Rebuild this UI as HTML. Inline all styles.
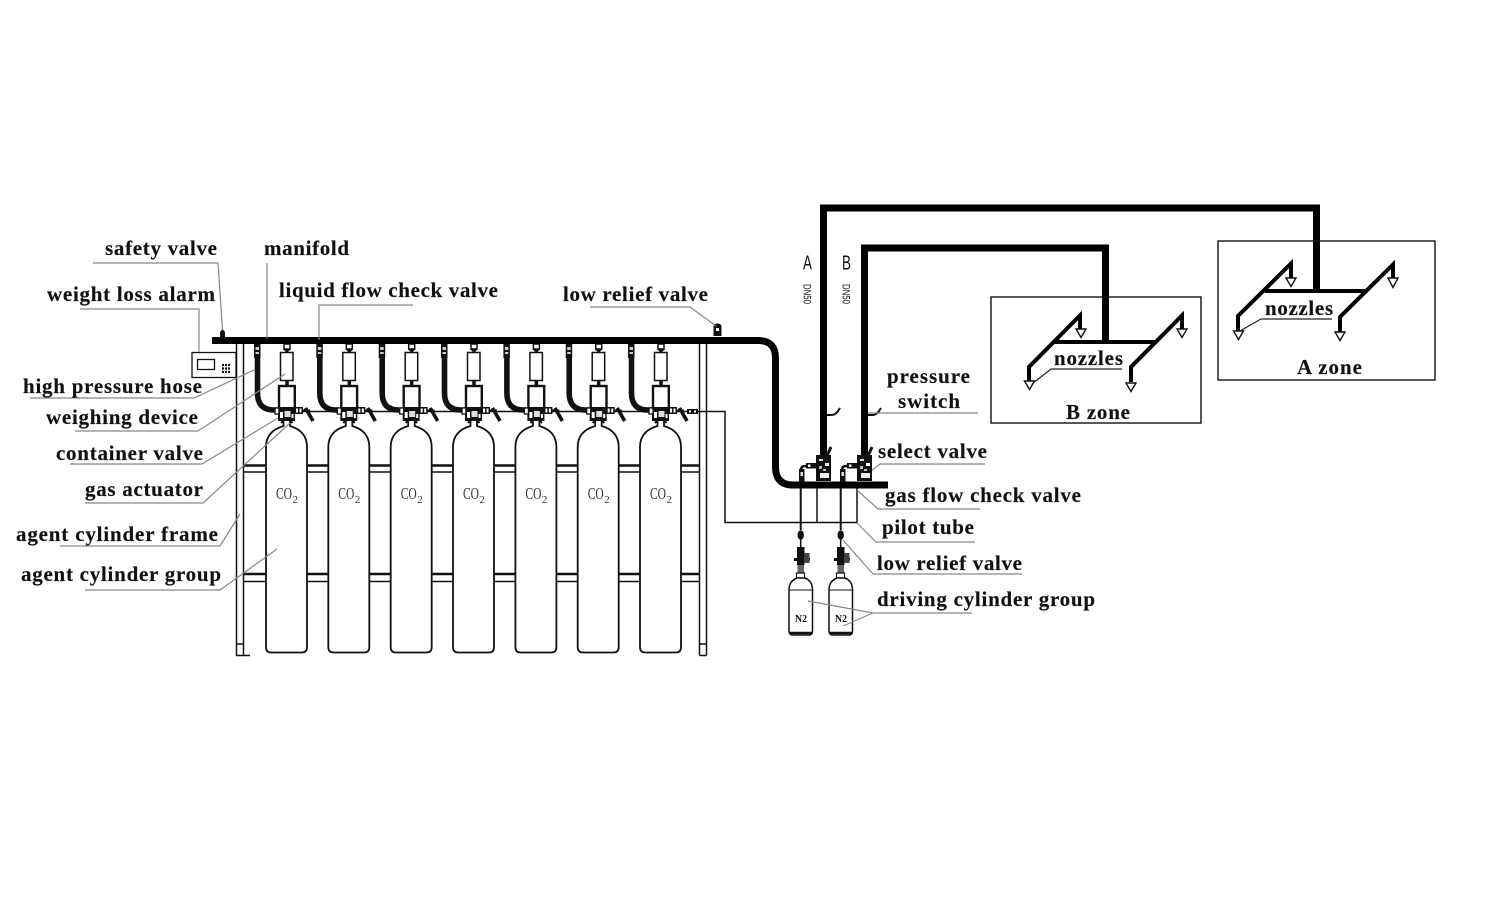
<!DOCTYPE html>
<html>
<head>
<meta charset="utf-8">
<style>
html,body{margin:0;padding:0;background:#fff;width:1500px;height:919px;overflow:hidden}
svg{display:block}
.l{font-family:"Liberation Serif",serif;font-weight:bold;font-size:21px;fill:#111;stroke:#111;stroke-width:.15}
.c{font-family:"Liberation Serif",serif;font-size:17px;fill:#333}
.s{font-family:"Liberation Sans",sans-serif;fill:#111}
.g{fill:none;stroke:#888;stroke-width:1.2}
</style>
</head>
<body>
<svg width="1500" height="919" viewBox="0 0 1500 919" xmlns="http://www.w3.org/2000/svg">
<defs>
<g id="unit" fill="none" stroke="#111">
  <path d="M283.5 421V426Q266 431 266 447V647Q266 652.5 271 652.5H302Q307 652.5 307 647V447Q307 431 290 426V421" stroke-width="1.8" fill="#fff"/>
  <path d="M257.500 358V393Q257.500 410 274 410H280" stroke-width="5.600"/>
  <rect x="254" y="344" width="6.500" height="14" fill="#111" stroke="none"/>
  <rect x="255.500" y="347" width="3.500" height="3" fill="#ccc" stroke="none"/>
  <rect x="255.500" y="352" width="3.500" height="2" fill="#ccc" stroke="none"/>
  <rect x="284" y="344" width="6" height="5" stroke-width="1.500" fill="#fff"/>
  <path d="M283 349H291L287 353Z" fill="#111" stroke="none"/>
  <rect x="280.500" y="352.500" width="12.500" height="28" stroke-width="1.500" fill="#fff"/>
  <path d="M287 380V386" stroke-width="3.500"/>
  <rect x="279" y="386" width="15.800" height="26" stroke-width="2.400" fill="#fff"/>
  <rect x="278" y="407" width="17" height="14" fill="#111" stroke="none"/>
  <rect x="280" y="412" width="3" height="6" fill="#fff" stroke="none"/>
  <rect x="284.500" y="411" width="6" height="6" fill="#ddd" stroke="none"/>
  <rect x="291.500" y="414" width="2" height="4" fill="#fff" stroke="none"/>
  <rect x="275" y="408" width="4" height="6" fill="#fff" stroke="#111" stroke-width="1.300"/>
  <rect x="294" y="407" width="9" height="7" fill="#111" stroke="none"/>
  <rect x="296" y="408.500" width="2" height="4" fill="#fff" stroke="none"/>
  <rect x="299.500" y="408.500" width="2" height="4" fill="#fff" stroke="none"/>
  <path d="M305.500 408L313 421" stroke-width="3.600"/>
  <path d="M303 410.500H310" stroke-width="2"/>
  <path d="M283.500 420L281 423M290 420L292.500 423" stroke-width="2"/>
</g>
<g id="drv" fill="none" stroke="#111">
  <path d="M800.700 488V530" stroke-width="2"/>
  <ellipse cx="800.700" cy="535" rx="3.200" ry="4.800" fill="#111" stroke="none"/>
  <path d="M800.700 539V548" stroke-width="1.500"/>
  <rect x="797" y="547" width="7.500" height="18" fill="#111" stroke="none"/>
  <rect x="794" y="558" width="16" height="3" fill="#111" stroke="none"/>
  <rect x="804" y="553" width="5.500" height="10" fill="#444" stroke="none"/>
  <rect x="797.500" y="565" width="6.500" height="8" fill="#666" stroke="none"/>
  <rect x="796.500" y="573" width="8" height="5" fill="#fff" stroke="#111" stroke-width="1.200"/>
  <path d="M789 590Q789 581 797 578H805Q812.500 581 812.500 590V631Q812.500 635 809 635H793Q789 635 789 631Z" stroke-width="1.500" fill="#fff"/>
  <path d="M789 590H812.500" stroke-width="1"/>
  <path d="M789 633H812.500" stroke-width="2.400"/>
</g>
<g id="sel" fill="none" stroke="#111">
  <rect x="816" y="455" width="15" height="26" fill="#111" stroke="none"/>
  <rect x="819" y="459" width="4" height="2" fill="#ddd" stroke="none"/>
  <rect x="825" y="463" width="4" height="3" fill="#fff" stroke="none"/>
  <rect x="819" y="466" width="3" height="3" fill="#bbb" stroke="none"/>
  <rect x="823" y="469" width="3" height="2" fill="#bbb" stroke="none"/>
  <rect x="820" y="473" width="9" height="5" fill="#eee" stroke="none"/>
  <path d="M827 456L831 447" stroke-width="3"/>
  <path d="M801 470Q801 466 805 466L817 465" stroke-width="2.400"/>
  <rect x="806" y="463" width="10" height="5.500" fill="#111" stroke="none"/>
  <rect x="808" y="464.500" width="2.500" height="2.500" fill="#fff" stroke="none"/>
  <rect x="799" y="469" width="5.500" height="13" fill="#111" stroke="none"/>
  <rect x="800.500" y="472" width="2.500" height="4" fill="#ddd" stroke="none"/>
  <path d="M827 415H832Q836 415 840 408" stroke-width="2"/>
</g>
</defs>

<g fill="none" stroke="#111" stroke-width="1.500">
  <path d="M236.500 343V655.500H250M243.500 343V655.500M236.500 644H243.500"/>
  <path d="M699.500 343V655.500M706.500 343V655.500M699.500 644H706.500M699.500 655.500H706.500"/>
  <path d="M243.500 465.500H699.500" stroke-width="2.500"/>
  <path d="M243.500 472H699.500"/>
  <path d="M243.500 574H699.500" stroke-width="2.500"/>
  <path d="M243.500 581.500H699.500"/>
</g>
<path d="M275 411.500H725V522.500H857M857 488V522.500M817 488V522.500" fill="none" stroke="#111" stroke-width="1.500"/>

<use href="#unit"/>
<use href="#unit" x="62.300"/>
<use href="#unit" x="124.700"/>
<use href="#unit" x="187"/>
<use href="#unit" x="249.400"/>
<use href="#unit" x="311.700"/>
<use href="#unit" x="374"/>
<rect x="687" y="409" width="11" height="5" fill="#111"/>
<rect x="689" y="410.500" width="2" height="2" fill="#fff"/>
<rect x="694" y="410.500" width="2" height="2" fill="#fff"/>

<path d="M212 340.500H758Q775.500 340.500 775.500 358V467Q775.500 485 793 485H888" fill="none" stroke="#000" stroke-width="7"/>
<path d="M713.500 336V327Q713.500 323.500 717.500 323.500Q721.500 323.500 721.500 327V336Z" fill="#111"/>
<rect x="716" y="328" width="3" height="3" fill="#fff"/>
<path d="M220 337V332L222.500 329L225 332V337Z" fill="#111"/>
<rect x="192" y="352.500" width="44" height="25" fill="#fff" stroke="#111" stroke-width="1.300"/>
<rect x="197.500" y="359.500" width="17" height="10" fill="#fff" stroke="#111" stroke-width="1.300"/>
<path d="M222 365H230M222 368.500H230M222 372H230" stroke="#111" stroke-width="2.200" stroke-dasharray="2 1"/>

<path d="M823.500 455V208H1316.500V292" fill="none" stroke="#000" stroke-width="7"/>
<path d="M864.500 455V248H1105.500V342" fill="none" stroke="#000" stroke-width="7"/>
<use href="#sel"/>
<use href="#sel" x="41"/>

<use href="#drv"/>
<use href="#drv" x="40"/>

<rect x="991" y="297" width="210" height="126" fill="none" stroke="#111" stroke-width="1.400"/>
<rect x="1218" y="241" width="217" height="139" fill="none" stroke="#111" stroke-width="1.400"/>
<rect x="1102" y="297" width="7" height="45" fill="#000"/>
<g fill="none" stroke="#000" stroke-width="4">
  <path d="M1055 342H1155"/>
  <path d="M1029 381V367L1080 315.500V330"/>
  <path d="M1131 382V367L1182 315.500V329"/>
  <path d="M1265 291H1366"/>
  <path d="M1238 331V316L1291 263.500V278"/>
  <path d="M1340 332V317L1393 264.500V279"/>
</g>
<g fill="#fff" stroke="#111" stroke-width="1.400">
  <path d="M1024.500 381H1034.500L1029.500 389.500Z"/>
  <path d="M1126 383H1136L1131 391.500Z"/>
  <path d="M1076 329H1086L1081 337.500Z"/>
  <path d="M1177 329H1187L1182 337.500Z"/>
  <path d="M1233.500 331H1243.500L1238.500 339.500Z"/>
  <path d="M1335 332H1345L1340 340.500Z"/>
  <path d="M1286 278H1296L1291 286.500Z"/>
  <path d="M1388 278H1398L1393 287.500Z"/>
</g>

<g class="g">
  <path d="M93 263H218L222.500 330"/>
  <path d="M80 309H199V352"/>
  <path d="M267 263V338"/>
  <path d="M319 340V305H413"/>
  <path d="M590 307H690L716 326"/>
  <path d="M30 398H194L254 370"/>
  <path d="M75 431H198L285 374"/>
  <path d="M70 464H202L278 418"/>
  <path d="M85 503H203L290 423"/>
  <path d="M60 546H220L240 514"/>
  <path d="M85 590H220L277 549"/>
  <path d="M868 413H978"/>
  <path d="M872 470L880 464H985"/>
  <path d="M857 490L878 509H980"/>
  <path d="M857 523L876 542H975"/>
  <path d="M843 540L873 574H1022"/>
  <path d="M808 601L873 613H972M843 626L873 613"/>
</g>
<path d="M1032 384L1051 369H1122" fill="none" stroke="#222" stroke-width="1.200"/>
<path d="M1240 331L1261 319H1332" fill="none" stroke="#222" stroke-width="1.200"/>

<g class="l">
  <text x="105" y="255" textLength="112" lengthAdjust="spacing">safety valve</text>
  <text x="264" y="255" textLength="85" lengthAdjust="spacing">manifold</text>
  <text x="47" y="301" textLength="168" lengthAdjust="spacing">weight loss alarm</text>
  <text x="279" y="297" textLength="219" lengthAdjust="spacing">liquid flow check valve</text>
  <text x="563" y="301" textLength="145" lengthAdjust="spacing">low relief valve</text>
  <text x="23" y="393" textLength="179" lengthAdjust="spacing">high pressure hose</text>
  <text x="46" y="424" textLength="152" lengthAdjust="spacing">weighing device</text>
  <text x="56" y="460" textLength="147" lengthAdjust="spacing">container valve</text>
  <text x="85" y="496" textLength="118" lengthAdjust="spacing">gas actuator</text>
  <text x="16" y="541" textLength="202" lengthAdjust="spacing">agent cylinder frame</text>
  <text x="21" y="581" textLength="200" lengthAdjust="spacing">agent cylinder group</text>
  <text x="887" y="383" textLength="83" lengthAdjust="spacing">pressure</text>
  <text x="898" y="408" textLength="62" lengthAdjust="spacing">switch</text>
  <text x="878" y="458" textLength="109" lengthAdjust="spacing">select valve</text>
  <text x="885" y="502" textLength="196" lengthAdjust="spacing">gas flow check valve</text>
  <text x="882" y="534" textLength="92" lengthAdjust="spacing">pilot tube</text>
  <text x="877" y="570" textLength="145" lengthAdjust="spacing">low relief valve</text>
  <text x="877" y="606" textLength="218" lengthAdjust="spacing">driving cylinder group</text>
  <text x="1054" y="365" textLength="69" lengthAdjust="spacing">nozzles</text>
  <text x="1265" y="315" textLength="68" lengthAdjust="spacing">nozzles</text>
  <text x="1066" y="419" textLength="64" lengthAdjust="spacing">B zone</text>
  <text x="1297" y="374" textLength="65" lengthAdjust="spacing">A zone</text>
</g>

<g class="c">
  <text x="276" y="499" textLength="16" lengthAdjust="spacingAndGlyphs">CO</text><text x="292.500" y="503" font-size="11">2</text>
  <text x="338.300" y="499" textLength="16" lengthAdjust="spacingAndGlyphs">CO</text><text x="354.800" y="503" font-size="11">2</text>
  <text x="400.700" y="499" textLength="16" lengthAdjust="spacingAndGlyphs">CO</text><text x="417.200" y="503" font-size="11">2</text>
  <text x="463" y="499" textLength="16" lengthAdjust="spacingAndGlyphs">CO</text><text x="479.500" y="503" font-size="11">2</text>
  <text x="525.400" y="499" textLength="16" lengthAdjust="spacingAndGlyphs">CO</text><text x="541.900" y="503" font-size="11">2</text>
  <text x="587.700" y="499" textLength="16" lengthAdjust="spacingAndGlyphs">CO</text><text x="604.200" y="503" font-size="11">2</text>
  <text x="650" y="499" textLength="16" lengthAdjust="spacingAndGlyphs">CO</text><text x="666.500" y="503" font-size="11">2</text>
</g>

<text font-family="Liberation Serif, serif" font-weight="bold" font-size="11" fill="#111" x="795" y="622" textLength="12" lengthAdjust="spacingAndGlyphs">N2</text>
<text font-family="Liberation Serif, serif" font-weight="bold" font-size="11" fill="#111" x="835" y="622" textLength="12" lengthAdjust="spacingAndGlyphs">N2</text>

<text class="s" font-size="20" x="803" y="269.500" textLength="9" lengthAdjust="spacingAndGlyphs">A</text>
<text class="s" font-size="20" x="842" y="269.500" textLength="9" lengthAdjust="spacingAndGlyphs">B</text>
<text class="s" font-size="11" transform="translate(803.500,284) rotate(90)" textLength="20" lengthAdjust="spacingAndGlyphs">DN50</text>
<text class="s" font-size="11" transform="translate(842.500,284) rotate(90)" textLength="20" lengthAdjust="spacingAndGlyphs">DN50</text>
</svg>
</body>
</html>
